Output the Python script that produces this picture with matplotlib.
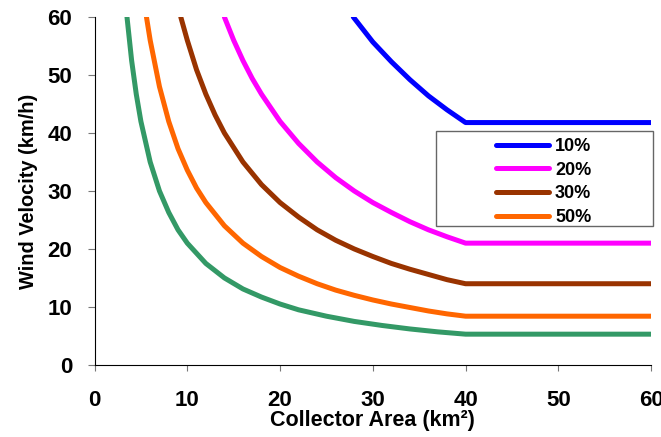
import matplotlib
matplotlib.use("Agg")
import matplotlib.pyplot as plt
from matplotlib.patches import Rectangle

plt.rcParams['font.family'] = ['Liberation Sans', 'DejaVu Sans']
plt.rcParams['font.weight'] = 'bold'

# Values (collector area km2 -> wind velocity km/h)
area_10 = [27.9, 30, 32, 34, 36, 38, 40, 60]
vel_10 = [60, 55.7, 52.3, 49.2, 46.4, 44.0, 41.8, 41.8]

area_20 = [14, 15, 16, 17, 18, 20, 22, 24, 26, 28, 30, 32, 34, 36, 38, 40, 60]
vel_20 = [60, 56, 52.5, 49.4, 46.7, 42, 38.2, 35, 32.3, 30, 28, 26.3, 24.7, 23.3, 22.1, 21, 21]

area_30 = [9.3, 10, 11, 12, 13, 14, 16, 18, 20, 22, 24, 26, 28, 30, 32, 34, 36, 38, 40, 60]
vel_30 = [60, 56, 50.9, 46.7, 43.1, 40, 35, 31.1, 28, 25.5, 23.3, 21.5, 20, 18.7, 17.5, 16.5, 15.6, 14.7, 14, 14]

area_50 = [5.6, 6, 7, 8, 9, 10, 11, 12, 14, 16, 18, 20, 22, 24, 26, 28, 30, 32, 34, 36, 38, 40, 60]
vel_50 = [60, 56, 48, 42, 37.3, 33.6, 30.5, 28, 24, 21, 18.7, 16.8, 15.3, 14, 12.9, 12, 11.2, 10.5, 9.9, 9.3, 8.8, 8.4, 8.4]

area_green = [3.5, 4, 4.5, 5, 6, 7, 8, 9, 10, 12, 14, 16, 18, 20, 22, 25, 28, 31, 34, 37, 40, 60]
vel_green = [60, 52.5, 46.7, 42, 35, 30, 26.3, 23.3, 21, 17.5, 15, 13.1, 11.7, 10.5, 9.5, 8.4, 7.5, 6.8, 6.2, 5.7, 5.3, 5.3]

series = [
    (area_10, vel_10, '#0000FF', '10%'),
    (area_20, vel_20, '#FF00FF', '20%'),
    (area_30, vel_30, '#993300', '30%'),
    (area_50, vel_50, '#FF6600', '50%'),
]

fig = plt.figure(figsize=(6.61, 4.37), dpi=100)
ax = fig.add_axes([0.143, 0.165, 0.842, 0.796])

lw = 3.6
ax.plot(area_green, vel_green, color='#339966', lw=lw, solid_capstyle='round')
handles = []
for a, v, c, lab in series:
    h, = ax.plot(a, v, color=c, lw=lw, label=lab, solid_capstyle='round')
    handles.append(h)

ax.set_xlim(0, 60)
ax.set_ylim(0, 60)
ax.set_xticks(range(0, 61, 10))
ax.set_yticks(range(0, 61, 10))
ax.spines['top'].set_visible(False)
ax.spines['right'].set_visible(False)
ax.tick_params(axis='x', length=4.5, pad=13.5, labelsize=16, color='#777777')
ax.tick_params(axis='y', length=5, pad=11, labelsize=16, color='#777777')
for t in ax.get_xticklabels() + ax.get_yticklabels():
    t.set_fontweight('bold')

ax.set_xlabel('Collector Area (km²)', fontsize=15.5, fontweight='bold', labelpad=-1)
ax.set_ylabel('Wind Velocity (km/h)', fontsize=14.4, fontweight='bold', labelpad=7)

leg = ax.legend(handles=handles, loc='upper left', bbox_to_anchor=(0.709, 0.673),
                frameon=False, fontsize=13, handlelength=2.9, handletextpad=0.35,
                labelspacing=0.37, borderaxespad=0)
ax.add_patch(Rectangle((0.614, 0.40), 0.39, 0.272, transform=ax.transAxes,
                       fill=False, edgecolor='#666666', lw=1, clip_on=False))

fig.savefig('out.png', dpi=100)
